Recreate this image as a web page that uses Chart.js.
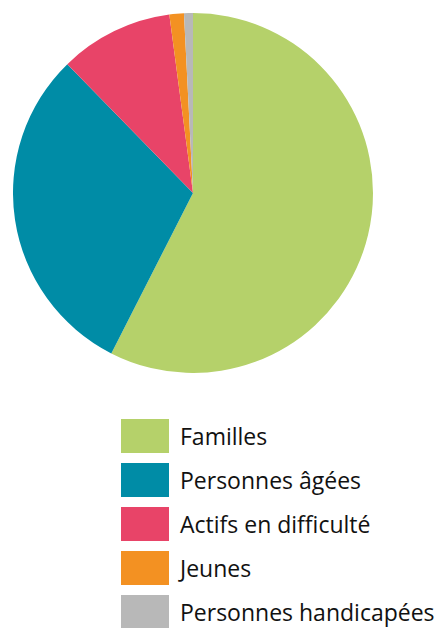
<!DOCTYPE html>
<html>
<head>
<meta charset="utf-8">
<script src="https://cdn.jsdelivr.net/npm/chart.js@4"></script>
<style>
  body { margin: 0; background: #fff; width: 443px; height: 628px; overflow: hidden; position: relative; }
  #wrap { position: absolute; left: 13px; top: 13px; width: 360px; height: 360px; }
  #legend { position: absolute; left: 121px; top: 419px; font-family: "Open Sans", sans-serif; font-size: 23px; color: #111; }
  .item { display: flex; align-items: center; height: 34px; margin-bottom: 10px; }
  .box { width: 48px; height: 34px; margin-right: 11px; flex: none; }
</style>
</head>
<body>
<div id="wrap"><canvas id="chart"></canvas></div>
<div id="legend"></div>
<script>
const categories = ["Familles", "Personnes âgées", "Actifs en difficulté", "Jeunes", "Personnes handicapées"];
const values = [57.5, 30.2, 10.2, 1.3, 0.8];
const colors = ["#b5d16a", "#008ca6", "#e84468", "#f39122", "#b8b8b8"];

const chart = new Chart(document.getElementById("chart"), {
    type: "pie",
    data: {
        labels: categories,
        datasets: [{
            data: values,
            backgroundColor: colors,
            borderWidth: 0
        }]
    },
    options: {
        responsive: true,
        maintainAspectRatio: false,
        animation: false,
        layout: { padding: 0 },
        plugins: {
            legend: { display: false },
            tooltip: { enabled: false }
        }
    }
});

// legend built from the chart's own legend items
const items = chart.options.plugins.legend.labels.generateLabels(chart);
const legend = document.getElementById("legend");
for (const it of items) {
    const row = document.createElement("div");
    row.className = "item";
    const box = document.createElement("div");
    box.className = "box";
    box.style.background = it.fillStyle;
    const label = document.createElement("span");
    label.textContent = it.text;
    row.appendChild(box);
    row.appendChild(label);
    legend.appendChild(row);
}
</script>
</body>
</html>
